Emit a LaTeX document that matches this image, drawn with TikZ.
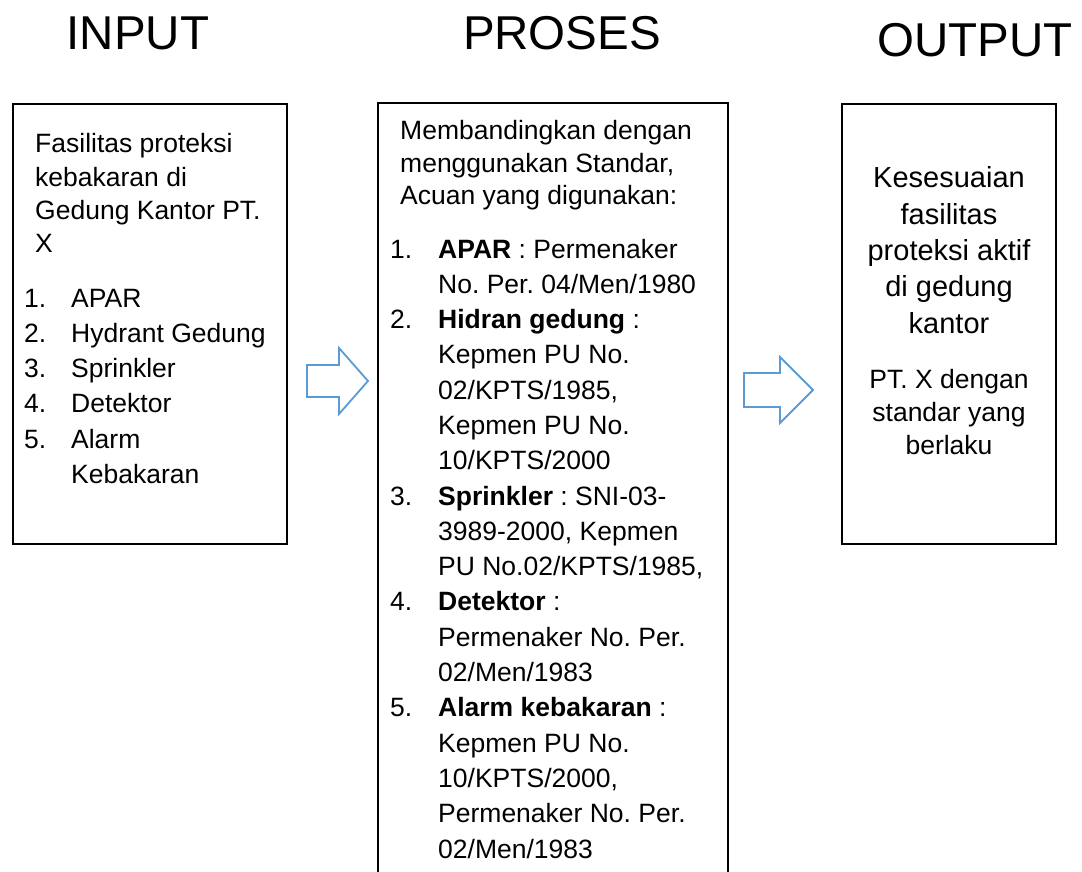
\documentclass[tikz,border=0pt]{standalone}
\usepackage{fontspec}
\setmainfont{Liberation Sans}
\usetikzlibrary{positioning}
\definecolor{panahbiru}{HTML}{5B9BD5}
\newcommand{\isifont}{\fontsize{26.5}{35.3}\selectfont}
\frenchspacing

\begin{document}
\begin{tikzpicture}[x = 1pt, y = -1pt,
	kotak/.style = {draw = black, line width = 1.6pt, inner sep = 0pt},
	judul/.style = {font = \fontsize{47.5}{56}\selectfont, inner sep = 0pt, anchor = base},
	isi/.style = {font = \isifont, inner sep = 0pt, anchor = base west},
	panah/.style = {draw = panahbiru, line width = 1.8pt, line join = miter}]
					\clip (0, 0) rectangle (1082, 872);
					\node [judul] (judulinput) at (138, 50) {INPUT};
					\node [judul] (judulproses) at (562, 50) {PROSES};
					\node [judul] (juduloutput) at (975, 57) {OUTPUT};
					\node [kotak, minimum width = 274pt, minimum height = 440pt] (input) at (150, 324) {};
					\node [kotak, minimum width = 350pt, minimum height = 820pt] (proses) at (553, 513) {};
					\node [kotak, minimum width = 214pt, minimum height = 440pt] (output) at (949, 324) {};
					\node [isi] (inputket) at (35, 153) {\fontsize{26.5}{33.3}\selectfont\begin{tabular}[t]{@{}l@{}}
						Fasilitas proteksi\\
						kebakaran di\\
						Gedung Kantor PT.\\
						X
					\end{tabular}};
					\node [isi] (inputlist) at (24, 307) {\begin{tabular}[t]{@{}p{47pt}@{}l@{}}
						1. & APAR\\
						2. & Hydrant Gedung\\
						3. & Sprinkler\\
						4. & Detektor\\
						5. & Alarm\\
						   & Kebakaran
					\end{tabular}};
					\node [isi] (prosesket) at (400, 140) {\fontsize{26.5}{32.5}\selectfont\begin{tabular}[t]{@{}l@{}}
						Membandingkan dengan\\
						menggunakan Standar,\\
						Acuan yang digunakan:
					\end{tabular}};
					\node [isi] (proseslist) at (390, 258) {\begin{tabular}[t]{@{}p{48pt}@{}l@{}}
						1. & \textbf{APAR} : Permenaker\\
						   & No. Per. 04/Men/1980\\
						2. & \textbf{Hidran gedung} :\\
						   & Kepmen PU No.\\
						   & 02/KPTS/1985,\\
						   & Kepmen PU No.\\
						   & 10/KPTS/2000\\
						3. & \textbf{Sprinkler} : SNI-03-\\
						   & 3989-2000, Kepmen\\
						   & PU No.02/KPTS/1985,\\
						4. & \textbf{Detektor} :\\
						   & Permenaker No. Per.\\
						   & 02/Men/1983\\
						5. & \textbf{Alarm kebakaran} :\\
						   & Kepmen PU No.\\
						   & 10/KPTS/2000,\\
						   & Permenaker No. Per.\\
						   & 02/Men/1983
					\end{tabular}};
					\node [isi, anchor = base] (outputket) at (949, 188) {\fontsize{29}{36.3}\selectfont\begin{tabular}[t]{@{}c@{}}
						Kesesuaian\\
						fasilitas\\
						proteksi aktif\\
						di gedung\\
						kantor
					\end{tabular}};
					\node [isi, anchor = base] (outputstd) at (949, 388) {\fontsize{26.5}{33.3}\selectfont\begin{tabular}[t]{@{}c@{}}
						PT. X dengan\\
						standar yang\\
						berlaku
					\end{tabular}};
					\draw [panah] (307, 365) -- (339, 365) -- (339, 348) -- (368, 381) -- (339, 414) -- (339, 397) -- (307, 397) -- cycle;
					\draw [panah] (744, 373) -- (780, 373) -- (780, 357) -- (813, 390) -- (780, 423) -- (780, 407) -- (744, 407) -- cycle;
				\end{tikzpicture}
\end{document}
